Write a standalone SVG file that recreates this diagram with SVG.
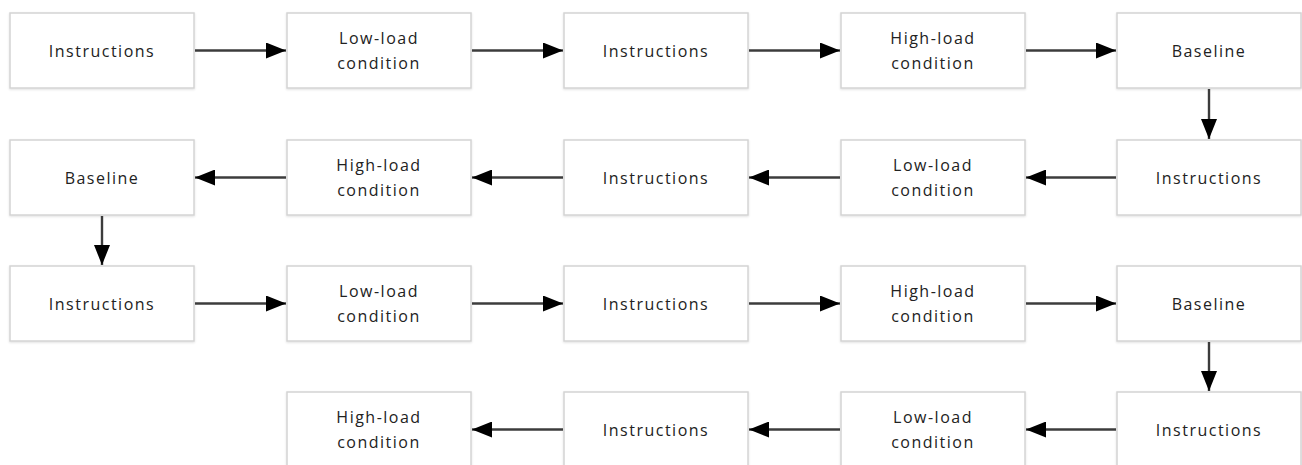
<svg xmlns="http://www.w3.org/2000/svg" width="1302" height="465" viewBox="0 0 1302 465">
<defs>
<marker id="ah" markerWidth="20" markerHeight="16" refX="20" refY="8" orient="auto" markerUnits="userSpaceOnUse">
<path d="M0,0 L20,8 L0,16 Z" fill="#000"/>
</marker>
<filter id="sh" x="-5%" y="-5%" width="110%" height="115%">
<feDropShadow dx="0" dy="1" stdDeviation="1" flood-color="#000" flood-opacity="0.12"/>
</filter>
</defs>
<style>
.b{fill:#fff;stroke:#d4d4d4;stroke-width:1.5;filter:url(#sh)}
.t{font-family:"Open Sans","Liberation Sans",sans-serif;font-size:16px;fill:#222;text-anchor:middle;dominant-baseline:central;letter-spacing:1.5px}
.c{stroke:#3c3c3c;stroke-width:2.4;fill:none;marker-end:url(#ah)}
</style>
<rect width="1302" height="465" fill="#fff"/>
<g id="n1"><rect class="b" x="10" y="13" width="184" height="75"/><text class="t" x="102" y="50.5">Instructions</text></g>
<g id="n2"><rect class="b" x="287" y="13" width="184" height="75"/><text class="t" x="379" y="38">Low-load</text><text class="t" x="379" y="63">condition</text></g>
<g id="n3"><rect class="b" x="564" y="13" width="184" height="75"/><text class="t" x="656" y="50.5">Instructions</text></g>
<g id="n4"><rect class="b" x="841" y="13" width="184" height="75"/><text class="t" x="933" y="38">High-load</text><text class="t" x="933" y="63">condition</text></g>
<g id="n5"><rect class="b" x="1117" y="13" width="184" height="75"/><text class="t" x="1209" y="50.5">Baseline</text></g>

<g id="n6"><rect class="b" x="1117" y="140" width="184" height="75"/><text class="t" x="1209" y="177.5">Instructions</text></g>
<g id="n7"><rect class="b" x="841" y="140" width="184" height="75"/><text class="t" x="933" y="165">Low-load</text><text class="t" x="933" y="190">condition</text></g>
<g id="n8"><rect class="b" x="564" y="140" width="184" height="75"/><text class="t" x="656" y="177.5">Instructions</text></g>
<g id="n9"><rect class="b" x="287" y="140" width="184" height="75"/><text class="t" x="379" y="165">High-load</text><text class="t" x="379" y="190">condition</text></g>
<g id="n10"><rect class="b" x="10" y="140" width="184" height="75"/><text class="t" x="102" y="177.5">Baseline</text></g>

<g id="n11"><rect class="b" x="10" y="266" width="184" height="75"/><text class="t" x="102" y="303.5">Instructions</text></g>
<g id="n12"><rect class="b" x="287" y="266" width="184" height="75"/><text class="t" x="379" y="291">Low-load</text><text class="t" x="379" y="316">condition</text></g>
<g id="n13"><rect class="b" x="564" y="266" width="184" height="75"/><text class="t" x="656" y="303.5">Instructions</text></g>
<g id="n14"><rect class="b" x="841" y="266" width="184" height="75"/><text class="t" x="933" y="291">High-load</text><text class="t" x="933" y="316">condition</text></g>
<g id="n15"><rect class="b" x="1117" y="266" width="184" height="75"/><text class="t" x="1209" y="303.5">Baseline</text></g>

<g id="n16"><rect class="b" x="1117" y="392" width="184" height="75"/><text class="t" x="1209" y="429.5">Instructions</text></g>
<g id="n17"><rect class="b" x="841" y="392" width="184" height="75"/><text class="t" x="933" y="417">Low-load</text><text class="t" x="933" y="442">condition</text></g>
<g id="n18"><rect class="b" x="564" y="392" width="184" height="75"/><text class="t" x="656" y="429.5">Instructions</text></g>
<g id="n19"><rect class="b" x="287" y="392" width="184" height="75"/><text class="t" x="379" y="417">High-load</text><text class="t" x="379" y="442">condition</text></g>

<g id="connectors">
<line class="c" x1="195" y1="50.5" x2="286" y2="50.5"/>
<line class="c" x1="472" y1="50.5" x2="563" y2="50.5"/>
<line class="c" x1="749" y1="50.5" x2="840" y2="50.5"/>
<line class="c" x1="1026" y1="50.5" x2="1116" y2="50.5"/>
<line class="c" x1="1209" y1="89" x2="1209" y2="139"/>
<line class="c" x1="1116" y1="177.5" x2="1026" y2="177.5"/>
<line class="c" x1="840" y1="177.5" x2="749" y2="177.5"/>
<line class="c" x1="563" y1="177.5" x2="472" y2="177.5"/>
<line class="c" x1="286" y1="177.5" x2="195" y2="177.5"/>
<line class="c" x1="102" y1="216" x2="102" y2="265"/>
<line class="c" x1="195" y1="303.5" x2="286" y2="303.5"/>
<line class="c" x1="472" y1="303.5" x2="563" y2="303.5"/>
<line class="c" x1="749" y1="303.5" x2="840" y2="303.5"/>
<line class="c" x1="1026" y1="303.5" x2="1116" y2="303.5"/>
<line class="c" x1="1209" y1="342" x2="1209" y2="391"/>
<line class="c" x1="1116" y1="429.5" x2="1026" y2="429.5"/>
<line class="c" x1="840" y1="429.5" x2="749" y2="429.5"/>
<line class="c" x1="563" y1="429.5" x2="472" y2="429.5"/>
</g>
</svg>
